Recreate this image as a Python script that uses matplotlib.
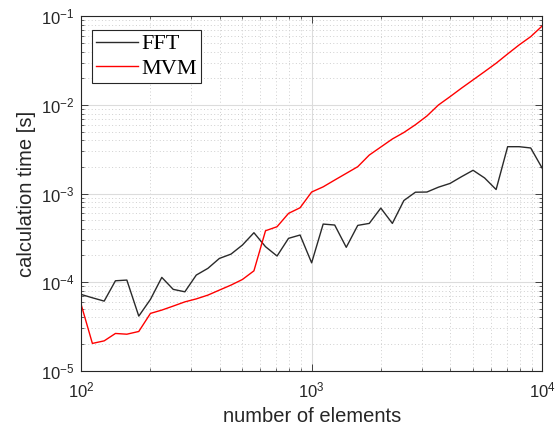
import matplotlib
matplotlib.use('Agg')

import matplotlib.pyplot as plt
from matplotlib.ticker import LogLocator, NullFormatter

# problem sizes (number of elements)
n_elements = [100, 112, 126, 141, 158, 178, 200, 224, 251, 282,
              316, 355, 398, 447, 501, 562, 631, 708, 794, 891,
              1000, 1122, 1259, 1413, 1585, 1778, 1995, 2239, 2512, 2818,
              3162, 3548, 3981, 4467, 5012, 5623, 6310, 7079, 7943, 8913,
              10000]

# calculation time [s]
t_fft = [7.26e-5, 6.65e-5, 6.10e-5, 1.035e-4, 1.054e-4, 4.13e-5, 6.38e-5, 1.13e-4, 8.28e-5, 7.77e-5,
         1.20e-4, 1.43e-4, 1.85e-4, 2.07e-4, 2.62e-4, 3.61e-4, 2.51e-4, 1.97e-4, 3.12e-4, 3.40e-4,
         1.65e-4, 4.52e-4, 4.41e-4, 2.47e-4, 4.37e-4, 4.60e-4, 6.85e-4, 4.60e-4, 8.34e-4, 1.035e-3,
         1.04e-3, 1.18e-3, 1.30e-3, 1.55e-3, 1.83e-3, 1.50e-3, 1.11e-3, 3.38e-3, 3.38e-3, 3.27e-3,
         1.93e-3]
t_mvm = [5.64e-5, 2.03e-5, 2.17e-5, 2.63e-5, 2.58e-5, 2.77e-5, 4.43e-5, 4.83e-5, 5.36e-5, 5.98e-5,
         6.46e-5, 7.13e-5, 8.12e-5, 9.25e-5, 1.07e-4, 1.34e-4, 3.80e-4, 4.22e-4, 5.97e-4, 6.91e-4,
         1.04e-3, 1.19e-3, 1.42e-3, 1.69e-3, 2.01e-3, 2.72e-3, 3.35e-3, 4.13e-3, 4.89e-3, 5.98e-3,
         7.51e-3, 1.0e-2, 1.24e-2, 1.55e-2, 1.92e-2, 2.38e-2, 2.96e-2, 3.77e-2, 4.77e-2, 5.91e-2,
         7.81e-2]

plt.rcParams['font.family'] = ['Liberation Sans', 'DejaVu Sans']
axis_color = '#262626'

fig = plt.figure(figsize=(5.55, 4.32), dpi=100)
ax = fig.add_axes([0.146, 0.142, 0.831, 0.820])

ax.loglog(n_elements, t_fft, color='#2a2a2a', linewidth=1.0, label='FFT')
ax.loglog(n_elements, t_mvm, color='#ff0000', linewidth=1.0, label='MVM')

ax.set_xlim(1e2, 1e4)
ax.set_ylim(1e-5, 1e-1)
ax.xaxis.set_major_locator(LogLocator(base=10, numticks=10))
ax.yaxis.set_major_locator(LogLocator(base=10, numticks=10))
ax.xaxis.set_minor_locator(LogLocator(base=10, subs=range(2, 10), numticks=20))
ax.yaxis.set_minor_locator(LogLocator(base=10, subs=range(2, 10), numticks=20))
ax.xaxis.set_minor_formatter(NullFormatter())
ax.yaxis.set_minor_formatter(NullFormatter())

# MATLAB-like grid
ax.grid(True, which='major', color='#dcdcdc', linestyle='-', linewidth=0.8)
ax.grid(True, which='minor', color='#cfcfcf', linestyle=(0, (1, 2.5)), linewidth=0.7)
ax.set_axisbelow(True)

ax.tick_params(which='both', direction='in', top=True, right=True,
               colors=axis_color, labelsize=12)
ax.tick_params(which='major', length=5, width=0.6)
ax.tick_params(which='minor', length=2.5, width=0.5)
ax.tick_params(axis='x', which='major', pad=7)
ax.tick_params(axis='y', which='major', pad=5)
for side in ax.spines.values():
    side.set_color(axis_color)
    side.set_linewidth(0.8)
for lbl in ax.get_xticklabels() + ax.get_yticklabels():
    lbl.set_color(axis_color)

ax.set_xlabel('number of elements', fontsize=14.5, color=axis_color, labelpad=5)
ax.set_ylabel('calculation time [s]', fontsize=14.5, color=axis_color, labelpad=3)

leg = ax.legend(loc='upper left', bbox_to_anchor=(0.024, 0.962), fancybox=False,
                edgecolor=axis_color, framealpha=1, handlelength=1.9,
                borderaxespad=0.0, prop={'family': 'Liberation Serif', 'size': 16},
                labelspacing=0.18, handletextpad=0.15, borderpad=0.18)
leg.get_frame().set_linewidth(0.8)

plt.savefig('out.png', dpi=100)
plt.close(fig)
